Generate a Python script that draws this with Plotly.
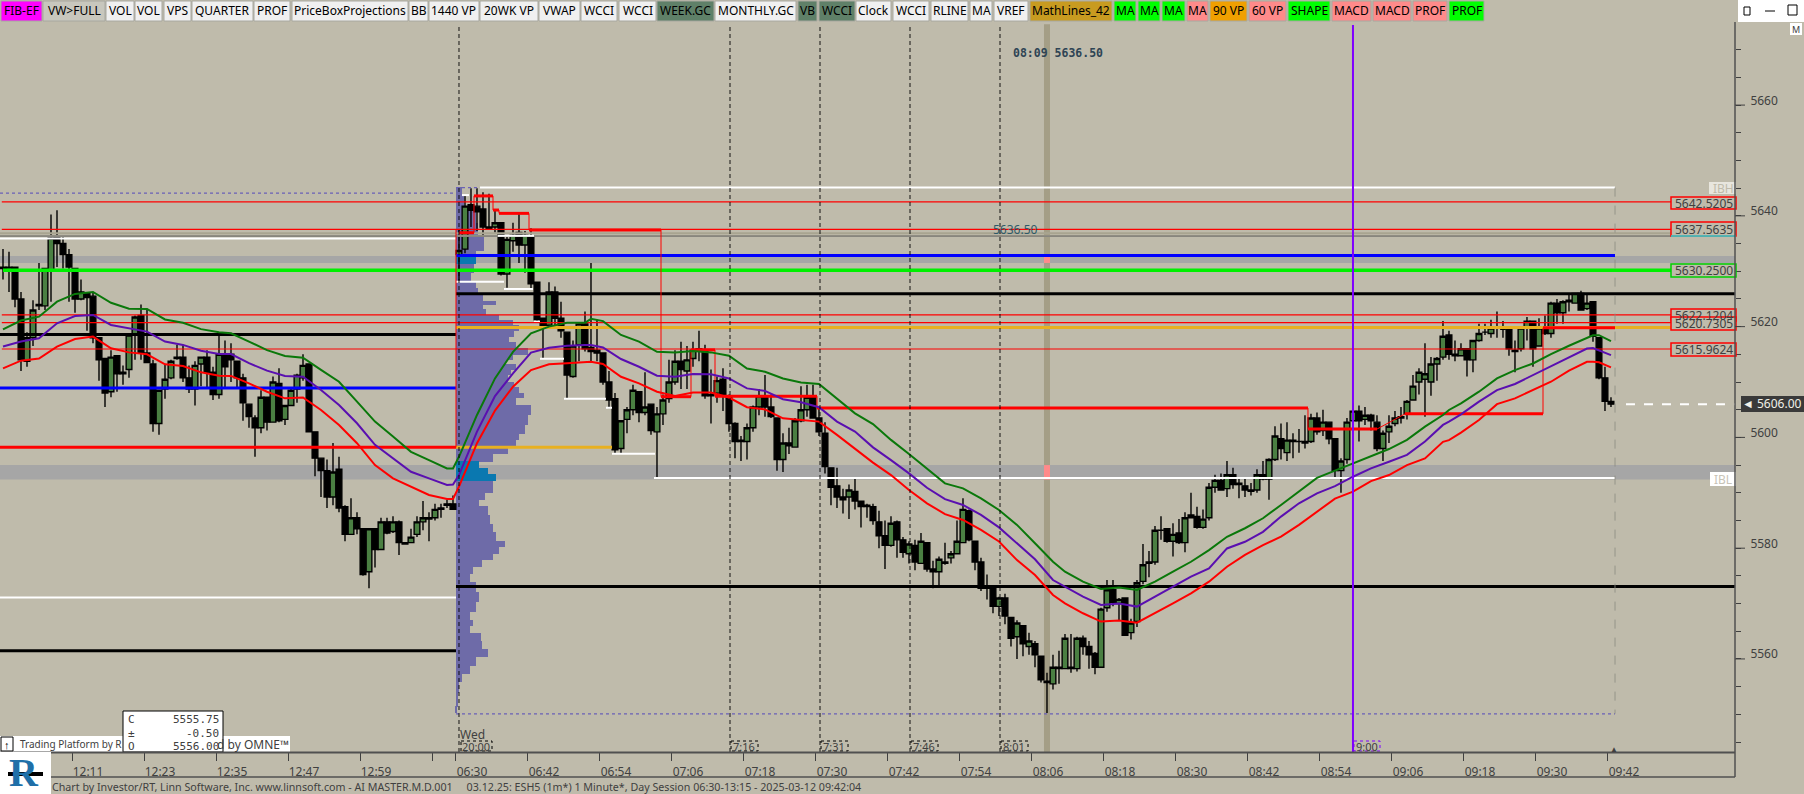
import numpy as np
import plotly.graph_objects as go

# ---------- candle data (1-minute ES bars, index 0 = 06:30) ----------
BAR_FIRST = -76
OPENS = [
5630.75,5630.25,5630.75,5625,5613.75,5618,5623.75,5623.75,5630.25,5636.25,
5635,5633,5630.5,5625,5626,5625.5,5618,5614.25,5608.25,5614.75,
5611.5,5612.25,5618.5,5622,5615.25,5613.25,5602.5,5608.75,5610.75,5614.25,
5614.5,5610.75,5608.75,5613.25,5614.5,5611.75,5607.75,5615,5615,5613.75,
5610.75,5606,5603.5,5601.75,5607.25,5602.75,5609.75,5603.25,5605.75,5608.75,
5610.75,5613.25,5601,5596.25,5594,5589.25,5594.25,5587.5,5582.5,5585.5,
5583.5,5575.75,5583.5,5579.75,5584.75,5583,5584.75,5581,5581,5582.5,
5584.75,5585.5,5585.5,5587,5587.75,5588,5633,5634,5642,5641.75,
5641.25,5638,5638,5638.75,5629.5,5635.5,5637,5634.75,5636.25,5628,
5621.5,5620.25,5626.25,5621.5,5619,5611,5616.75,5620.5,5616.25,5615.75,
5615.25,5610,5607,5598,5603.25,5605,5608.25,5604.5,5606,5601,
5604.25,5607,5610,5613.75,5612,5614.25,5615.75,5615.75,5607.75,5608,
5610.5,5607.5,5602.5,5599.5,5599.25,5601.75,5605.5,5607.5,5605.5,5603.5,
5596,5599,5598.25,5603,5605,5607.25,5603.5,5600.75,5594.5,5591.25,
5589.25,5589.25,5590.25,5588.5,5587.75,5587.5,5584.75,5582.25,5580.5,5584.75,
5581.5,5579,5580.5,5577.25,5581,5576.25,5575.75,5577.5,5578.25,5579,
5581,5586.75,5581.25,5577.5,5573,5573,5569.5,5571,5567.5,5564,
5566,5562.25,5562.75,5560.5,5556,5555.5,5558.25,5558.25,5558.5,5558.25,
5563.75,5562.25,5561,5558.5,5569.25,5572.5,5570,5571,5564.75,5566.75,
5574,5577.25,5577.5,5583.25,5583.5,5581.25,5582.75,5581,5586,5585.75,
5583.75,5585.5,5591,5592.25,5590.75,5593.25,5591.75,5591.25,5590.5,5590.5,
5593.25,5592.5,5596,5599.75,5597.25,5599.25,5599.25,5599.25,5599.25,5603.5,
5601.25,5602.75,5599.75,5594,5596,5603,5604.75,5603.25,5604,5602.75,
5598,5601,5602.5,5603.5,5604.25,5606.75,5610,5610.5,5610,5613.25,
5614.5,5618.5,5615,5614.75,5616,5614,5617.5,5619,5618.75,5619.75,
5619.5,5619.75,5615.75,5616,5620,5621,5616.5,5620,5618.75,5624.25,
5622.5,5624.5,5624.25,5626,5623.25,5624.5,5618,5610.75,5606.5]
HIGHS = [
5634,5633.5,5630.75,5626.25,5619,5624.75,5631.5,5630.5,5640.25,5641,
5636.25,5634,5630.5,5628.5,5626.25,5626.25,5618,5614.25,5615.75,5614.75,
5613,5618.75,5622,5624,5623.25,5614,5608.5,5613.25,5614,5616.75,
5616.75,5613,5613.75,5614.5,5615.75,5612.75,5618.5,5617.5,5617,5613.75,
5611.5,5606,5604,5608.5,5607.25,5611,5612.5,5605.75,5608.75,5611.5,
5615,5613.25,5601,5596.25,5596,5599,5596.5,5587.75,5589,5586.5,
5583.5,5583.5,5583.5,5585.5,5585.5,5585.75,5585,5581,5583.5,5585.75,
5588.5,5586.5,5588,5588,5588.75,5589.5,5637.5,5643.75,5645,5645,
5644.25,5644,5641.25,5638.75,5636.5,5638.75,5640.5,5637.25,5637.75,5628,
5621.5,5628,5627.25,5624.5,5619,5617.5,5620.75,5622.75,5631.5,5621.25,
5615.25,5612,5608,5603,5605.5,5609.5,5608.25,5611.75,5606,5605.5,
5607.75,5614,5615.75,5617.25,5616.5,5617.25,5619.25,5616.75,5612.25,5611,
5612.5,5607.75,5602.75,5600.25,5602.5,5605.75,5608.75,5611.25,5607.75,5603.5,
5600.75,5601.75,5603.5,5609.25,5609.5,5609.5,5605.25,5602.75,5594.5,5594.5,
5590.75,5591.5,5592.5,5588.5,5588,5588,5586.75,5585,5585.75,5585,
5582,5581.25,5581.5,5582.75,5581,5577.75,5578.5,5581,5579.5,5585,
5589,5587,5581.25,5578.25,5575.25,5573.25,5571.25,5571.75,5567.5,5567,
5566,5564.75,5563.25,5560.5,5557.5,5560.75,5561.5,5564.5,5564.5,5564,
5564.25,5563.25,5561.25,5569.25,5574.25,5574.25,5571,5571,5567.25,5574.25,
5580.75,5579.5,5584,5585.75,5583.5,5584.5,5585.25,5586.5,5590,5587.5,
5587,5591.75,5593.25,5593.5,5595.75,5594.5,5592.5,5592.5,5591.75,5594.25,
5595.75,5596.25,5602,5602.5,5602.75,5600.75,5601.5,5604,5604.25,5604.5,
5605,5602.75,5599.75,5596.25,5603.5,5606.25,5605.75,5605.5,5604.25,5604,
5601.25,5604,5604.75,5605.5,5606.75,5611.25,5612.5,5617,5614.5,5614.5,
5621,5619.25,5617.5,5617,5616,5617.5,5620.5,5620.5,5621.25,5622.75,
5621,5620,5617.5,5620,5621.75,5621,5621.5,5622,5624.5,5625,
5624.75,5625.75,5626,5626.5,5626,5624.5,5618,5612.75,5607.25]
LOWS = [
5628.5,5626.25,5623.5,5612,5612.75,5616.5,5623,5623,5624.5,5630.75,
5630.5,5624.5,5622.5,5624.75,5619.25,5617,5610.25,5605.5,5607.25,5608.25,
5609.5,5610.75,5614,5614,5613.5,5601,5600.5,5607,5610.5,5614,
5610,5608,5605.75,5609.25,5608.75,5606.75,5607,5608.75,5610,5609,
5603,5601.75,5596.5,5600.75,5601.25,5602.75,5602.75,5602.25,5605.75,5606.25,
5610.25,5601,5593,5589.25,5587.25,5587.75,5586.5,5581.25,5582.5,5582.5,
5575,5572.75,5576.5,5579.75,5582.5,5582.75,5578.75,5580.75,5581,5582,
5583.25,5581.25,5585,5585.5,5587.25,5587,5628,5633.25,5638,5637.25,
5636.5,5637.5,5637,5629.25,5627,5633.5,5631.5,5629.75,5626.75,5620.75,
5614.25,5620,5619.75,5618,5607,5610.75,5613.75,5615.5,5613.75,5613.75,
5609.5,5605.25,5597,5597,5600.75,5604,5602.75,5604,5600.5,5592.75,
5602.25,5606.25,5609.5,5608.75,5608.75,5612.75,5613.75,5607,5602.5,5606.25,
5604.75,5601,5596.25,5595.75,5596,5601,5604,5603.75,5603.5,5594,
5593.75,5597,5598.25,5602.75,5603.75,5603.5,5600.25,5593.5,5587.75,5587.25,
5586.25,5585.25,5587,5583.75,5585.5,5584.25,5580,5576.25,5580.25,5578.25,
5578.25,5577.25,5576,5577.25,5575.75,5572.75,5573,5577,5577.25,5579,
5581,5581.25,5576,5572.25,5570.75,5568.25,5567.75,5566.25,5562.25,5560,
5560.5,5560.75,5558.5,5555.75,5550.25,5554.5,5555.5,5558.25,5557.5,5557.75,
5560.75,5558.25,5557.25,5558.5,5568.5,5569.5,5567,5564.25,5563.5,5565.75,
5573.5,5574.75,5577,5581.5,5581,5578.5,5580.75,5579.25,5585.5,5583.5,
5583.5,5585,5590,5590.5,5589.25,5590.75,5589,5589.25,5589.5,5590,
5592.25,5588.75,5595.75,5596,5595.75,5596.25,5597.25,5598,5599,5600.5,
5600.25,5598.75,5592.75,5590,5595.25,5602.75,5599.25,5602.25,5601.25,5597.5,
5595.75,5599,5602,5602.5,5603.25,5606.75,5607.75,5603.75,5607.5,5610.25,
5614,5614,5613.75,5614.75,5611,5611.75,5617.25,5618.5,5618,5618,
5618,5614.75,5611.75,5615.5,5617.5,5612.75,5616.5,5618.5,5618,5620.5,
5620.5,5622.75,5624.25,5623,5623,5617.25,5610.5,5604.75,5605.5]
CLOSES = [
5630.5,5630.75,5625,5614,5618,5623,5624,5630.5,5636,5635,
5633,5630.75,5625,5626.25,5625.25,5618,5614,5608,5614.5,5611.5,
5611.75,5618.5,5621.75,5615.25,5613.5,5602.5,5608.5,5610.5,5613.75,5614.5,
5610.75,5608.75,5613,5614.5,5611.75,5607.75,5615,5612.75,5614,5610.75,
5606.25,5603.75,5601.75,5607.25,5602.75,5610,5603,5605.75,5608.5,5611.25,
5613,5601,5596.25,5594,5589.25,5593.75,5587.25,5582.5,5585.5,5583.5,
5575.25,5583.5,5579.75,5584.75,5582.75,5584.75,5581,5580.75,5582,5584.75,
5585.5,5585.25,5587,5587.25,5588,5587,5633.75,5641.75,5641,5640.75,
5638,5637.75,5638.75,5629.5,5635.75,5636.5,5634.75,5636.5,5627.75,5621.25,
5619.75,5626.25,5621.5,5619.25,5611.25,5616.5,5620.5,5616,5615.5,5615.25,
5610,5606.75,5597.75,5603,5605,5608.5,5604.5,5605.5,5601.25,5604.25,
5606.75,5610,5613.75,5612.25,5614,5615.75,5616,5607.5,5607.5,5610.25,
5607.75,5602.5,5599.25,5599.25,5601.75,5605.5,5607.5,5605.5,5603.75,5596,
5599,5598.5,5603,5605,5607.25,5603.5,5601,5594.75,5591,5589.25,
5588.75,5590.5,5588.5,5587.5,5587.5,5585,5582.25,5580.5,5584.5,5581.5,
5579.25,5580.75,5577.5,5581.25,5576.25,5575.75,5578,5577.25,5579,5581.25,
5587,5581.5,5577.5,5572.75,5572.75,5569.5,5571,5567.75,5563.75,5566.5,
5562.75,5563.25,5560.75,5556.25,5555.75,5558.5,5558.5,5563.75,5558.25,5563.75,
5562.25,5560.75,5558.5,5569,5572.5,5570.25,5570.75,5564.25,5566.5,5573.75,
5577,5577.5,5583.25,5583.25,5581.25,5582.5,5581,5585.5,5585.5,5583.75,
5585.25,5591,5592.25,5590.5,5593.25,5591.5,5591.5,5590.5,5590.25,5593.25,
5592.5,5596,5600.25,5598,5599.5,5599.5,5599.25,5599,5603.5,5601,
5602.75,5599.75,5594,5595.75,5602.75,5604.75,5603,5604,5603,5598,
5600.75,5602,5603.5,5603.75,5606.5,5609.25,5611.75,5611.5,5613.25,5614.25,
5618.25,5615,5614.75,5616,5614,5617.5,5618.75,5619,5619.75,5619.75,
5619.5,5616,5615.5,5619.75,5621,5616,5619.75,5618.75,5624.25,5622.5,
5624.5,5624.75,5626,5623,5624.25,5618.25,5610.75,5606.5,5606]

# ---------- moving averages ----------
MA_X = [-76,-73,-70,-67,-64,-61,-58,-55,-52,-49,-46,-43,-40,
        -38,-35,-32,-29,-26,-23,-20,-17,-14,-11,-8,-5,-2,-1,
        0,3,6,9,12,15,18,21,22,24,27,30,33,
        36,39,42,45,48,51,54,57,60,63,66,
        69,72,75,78,81,84,87,90,93,96,99,101,
        104,107,110,113,116,119,122,125,128,131,134,
        137,140,143,146,149,152,155,158,161,164,
        165,167,170,173,176,179,182,185,188,189,190,192]
MA_GREEN = [5619.5,5621.1,5621.8,5624.5,5625.9,5626.25,5624.3,5623.25,5623.2,5621.3,5620.7,5619.55,5619,
  5618.8,5617.3,5615.75,5614.7,5614.4,5612.2,5610.05,5606.45,5602.85,5600.15,5597.4,5595.9,5594.4,5594.4,
  5596.5,5604.05,5610.65,5615.45,5618.8,5620,5620.7,5620.7,5621.4,5621,5618.5,5617.3,5615.45,
  5615.35,5615.6,5615.35,5614.75,5612.45,5611.85,5610.65,5609.9,5609.65,5607.05,5604.35,
  5602.4,5599.55,5597,5594.4,5591.7,5590.8,5589,5586.9,5584.2,5580.9,5577.55,5575.75,
  5573.95,5572.65,5572.9,5572.45,5573.95,5575.75,5577.55,5579.65,5582.05,5583.6,5585.4,
  5587.8,5590.2,5592.7,5594,5595.3,5596.65,5597.9,5599.55,5601.95,5604.05,
  5604.95,5606.15,5608.25,5610.65,5612.15,5613.35,5615.05,5616.55,5618.05,5618.45,5618.45,5617.4]
MA_PURPLE = [5616.4,5617.3,5617.9,5620.6,5621.9,5622.1,5620.3,5619.7,5619.1,5617.3,5616.7,5615.65,5615.05,
  5615.05,5613.4,5612.05,5611.1,5610.95,5608.55,5605.85,5602.55,5598.65,5596.2,5593.8,5592.6,5591.4,5591.5,
  5593.2,5601.05,5607.45,5611.55,5615.3,5616.2,5616.55,5616.7,5616.7,5616.25,5614.15,5612.75,5611.15,
  5610.95,5611.45,5611.4,5610.65,5608.85,5608.4,5606.9,5606.35,5605.45,5602.85,5601.05,
  5598.2,5595.9,5593.5,5590.9,5588.85,5587.8,5586,5583.75,5580.9,5578,5574.25,5573.05,
  5571.25,5569.75,5570,5569.45,5571.25,5573.05,5574.85,5576.35,5579.95,5581.15,5582.95,
  5585.7,5588.1,5589.9,5591.2,5592.9,5594.4,5595.6,5596.85,5599.25,5602.25,
  5602.85,5604.15,5606.45,5608.55,5609.65,5611.25,5612.9,5614.45,5616.05,5616.15,5615.75,5614.85]
MA_RED = [5612.45,5613.85,5614.25,5616.4,5617.75,5618.2,5616.1,5615.35,5615,5613.2,5612.9,5611.75,5611.15,
  5611.1,5609.75,5608.25,5607.05,5607.2,5604.95,5602.25,5598.95,5595,5592.6,5591.1,5589.6,5588.9,5588.9,
  5591.1,5598.95,5604.85,5609.15,5612.15,5613.2,5613.4,5613.65,5613.65,5613.25,5610.95,5609.75,5608.25,
  5607.5,5608.1,5608.1,5607.2,5605.45,5605.05,5603.45,5603.15,5602.85,5600.45,5598,
  5595.45,5593.2,5590.5,5588.1,5586.15,5585.1,5583.3,5581.2,5577.85,5575.15,5571.55,5570.05,
  5568.25,5566.75,5566.95,5566.55,5568.25,5570.05,5571.85,5573.95,5576.65,5578.8,5580.55,
  5582.1,5584.2,5586.6,5588.95,5590.2,5592.1,5593.2,5595,5596.2,5599.2,
  5599.5,5600.85,5603.15,5606,5607.05,5608.55,5610.05,5612.05,5613.65,5613.65,5613.55,5612.65]

# ---------- volume profile ----------
PROFILE_PRICE = [5645.2,5641.95,5639.6,5637.8,5635.25,5634.2,5633.3,5632,5630.6,5628.95,5627.5,5626.25,5625.15,
  5624.25,5623.55,5622.65,5621.55,5620.85,5619.75,5618.85,5617.6,5616.7,5615.4,5614.5,5613.6,5612.7,5611.8,
  5610.7,5609.45,5608.55,5607.45,5606.75,5604.95,5603.15,5601.35,5600.05,5599.15,5597.75,5596.3,5595,5594.1,
  5592.65,5591.75,5590.85,5589.25,5588.15,5586.9,5585.1,5583.65,5582,5580.6,5579.7,5578.4,5577.35,5576.05,
  5574.8,5573,5571.2,5569.4,5567.6,5566.5,5565.25,5564,5562.55,5561.1,5559.55,5558,5556.75,5555,5552.6,5550.25]
PROFILE_VOL = [6,8,20,22,28,28,20,20,18,15,20,22,27,
  40,27,30,43,57,63,58,53,60,72,57,50,60,55,
  52,58,63,68,60,75,72,69,63,60,52,37,23,32,
  40,37,37,29,23,32,34,37,40,49,43,37,26,17,
  14,20,23,20,14,17,14,25,26,32,20,14,6,3,2,1]
PROFILE_POC_PRICES = [5632, 5595, 5594.1, 5592.65]

# ---------- price levels: (start bar, end bar, price) ----------
L_END = 212.67
LEFT_EDGE = -76.5
SESSION = -0.5
BOX_END = 192.67
TAG_START = 202.2
WHITE_LEVELS = [(LEFT_EDGE,SESSION,5635.9),(LEFT_EDGE,SESSION,5571.1),(3.5,BOX_END,5645.1),(32.5,BOX_END,5592.65),
  (0.5,1.67,5643.75),(6.5,12.5,5636.4),(SESSION,7.5,5628.1),(7.5,12.33,5626.8),(12.5,13.5,5620.9),
  (13.5,17.5,5614.2),(17.5,24.5,5607),(24.5,25.5,5605.35),(25.5,32.67,5597.05)]
BLACK_LEVELS = [(LEFT_EDGE,SESSION,5618.6),(LEFT_EDGE,SESSION,5561.5),(SESSION,L_END,5625.95),(SESSION,L_END,5573.1)]
BLUE_LEVELS = [(LEFT_EDGE,SESSION,5608.9),(SESSION,BOX_END,5632.85)]
ORANGE_LEVELS = [(SESSION,TAG_START,5619.85),(SESSION,25.5,5598.2)]
THIN_RED_LEVELS = [5642.5205,5637.5635,5622.1204,5620.7305,5615.9624]
RED_STEPS = [(0,2.5,5636.95),(2.5,5.67,5643.6),(5.67,6.67,5641.05),(6.67,11.67,5640.45),(11.67,33.67,5637.45),
  (33.67,38.67,5607.35),(38.67,42.67,5615.8),(42.67,59.67,5607.45),(59.67,141.5,5605.3),(141.5,153,5601.5),
  (157.67,180.67,5604.25),(180.67,192.67,5619.8)]
DOT_LEVELS = [(LEFT_EDGE,SESSION,5644.1),(SESSION,3.5,5645.1),(SESSION,BOX_END,5550.1)]
BANDS = [(5632.75,5631.5),(5595,5592.4)]

V_DASHED = [0,45.17,60.17,75.17,90.17]
V_TAN = 98
V_PURPLE = 149
V_TAGS = [("7:16",45.17),("7:31",60.17),("7:46",75.17),("8:01",90.17)]

X_TICK_POS = [-64.5,-52.5,-40.5,-28.5,-16.5,-0.5,11.5,23.5,35.5,47.5,59.5,71.5,83.5,95.5,107.5,119.5,131.5,143.5,155.5,167.5,179.5,191.5]
X_TICK_LAB = ["12:11","12:23","12:35","12:47","12:59","06:30","06:42","06:54","07:06","07:18","07:30","07:42","07:54","08:06","08:18","08:30","08:42","08:54","09:06","09:18","09:30","09:42"]
Y_LABELS = [5560,5580,5600,5620,5640,5660]
Y_MINOR = [5545,5550,5555,5560,5565,5570,5575,5580,5585,5590,5595,5600,5605,5610,5615,5620,5625,5630,5635,5640,5645,5650,5655,5660,5665,5670]

BUTTONS = [("FIB-EF",1,42,"#FF00FF"),("VW>FULL",43,105,"#C8C7BD"),("VOL",106,134,"#F0F0F0"),("VOL",135,162,"#F0F0F0"),
 ("VPS",164,191,"#F0F0F0"),("QUARTER",192,253,"#F0F0F0"),("PROF",254,290,"#F0F0F0"),("PriceBoxProjections",292,408,"#F0F0F0"),
 ("BB",409,428,"#F0F0F0"),("1440 VP",429,479,"#F0F0F0"),("20WK VP",480,538,"#F0F0F0"),("VWAP",539,580,"#F0F0F0"),
 ("WCCI",581,617,"#F0F0F0"),("WCCI",619,656,"#F0F0F0"),("WEEK.GC",657,714,"#5F8068"),("MONTHLY.GC",715,796,"#F0F0F0"),
 ("VB",798,817,"#5F8068"),("WCCI",819,855,"#5F8068"),("Clock",856,891,"#F0F0F0"),("WCCI",893,929,"#F0F0F0"),
 ("RLINE",931,968,"#F0F0F0"),("MA",970,992,"#F0F0F0"),("VREF",994,1028,"#F0F0F0"),("MathLines_42",1030,1112,"#C89B20"),
 ("MA",1114,1136,"#00FF00"),("MA",1138,1160,"#00FF00"),("MA",1162,1185,"#00FF00"),("MA",1187,1208,"#FF8A8A"),
 ("90 VP",1210,1247,"#F0A000"),("60 VP",1249,1286,"#FF8A8A"),("SHAPE",1288,1330,"#00FF00"),("MACD",1332,1371,"#FF8A8A"),
 ("MACD",1373,1411,"#FF8A8A"),("PROF",1413,1447,"#FF8A8A"),("PROF",1449,1484,"#00FF00")]
PRICE_TAGS = [("5642.5205",197,209,"#FF0000"),("5637.5635",222,236,"#FF0000"),("5630.2500",264,277,"#00D000"),
 ("5622.1204",309,321,"#FF0000"),("5620.7305",317,330,"#FF0000"),("5615.9624",343,356,"#FF0000")]
STATUS = "Chart by Investor/RT, Linn Software, Inc. www.linnsoft.com - AI MASTER.M.D.001     03.12.25: ESH5 (1m*) 1 Minute*, Day Session 06:30-13:15 - 2025-03-12 09:42:04"

# ---------- figure geometry ----------
W, H = 1804, 794
PL, PR, PT, PB = 0, 1735, 22, 752
BG = "#BFBBAB"
FONT = "Noto Sans"
GREY = "#404040"
def PX(x): return (x - PL) / (PR - PL)
def PY(y): return 1 - (y - PT) / (PB - PT)

def seg(levels):
    xs, ys = [], []
    for a, b, p in levels:
        xs += [a, b, None]; ys += [p, p, None]
    return xs, ys

fig = go.Figure()
idx = np.arange(BAR_FIRST, BAR_FIRST + len(OPENS))

def line(xs, ys, color, width, dash="solid"):
    fig.add_trace(go.Scatter(x=xs, y=ys, mode="lines", line=dict(color=color, width=width, dash=dash),
                             hoverinfo="skip", connectgaps=False))

# profile: rows tile between the midpoints of neighbouring read prices
pp = np.array(PROFILE_PRICE)
mids = (pp[:-1] + pp[1:]) / 2
edges = np.concatenate([[pp[0]], mids, [pp[-1]]])
fig.add_trace(go.Bar(y=(edges[:-1] + edges[1:]) / 2, x=np.array(PROFILE_VOL) / 6.0, base=-0.5, orientation="h",
                     width=np.abs(np.diff(edges)) + 0.03,
                     marker=dict(color=["#0A78B0" if p in PROFILE_POC_PRICES else "#6E6BA8" for p in PROFILE_PRICE],
                                 line=dict(width=0)), hoverinfo="skip"))
# levels behind candles
line([LEFT_EDGE, L_END, None, LEFT_EDGE, L_END], [5636.85, 5636.85, None, 5636.35, 5636.35], "#A8A490", 2)
line([LEFT_EDGE, L_END], [5636.35, 5636.35], "#707070", 1)
line(*seg(DOT_LEVELS), "#6A60B8", 1.2, "dot")
line(*seg(WHITE_LEVELS), "#FFFFFF", 2)
line(*seg(ORANGE_LEVELS), "#E8B020", 3)
line(*seg(BLUE_LEVELS), "#0000FF", 3)
line(*seg([(LEFT_EDGE, SESSION, 5598.2)]), "#FF0000", 3)
line([LEFT_EDGE + 0.5, L_END], [5630.2, 5630.2], "#00F000", 3.5)
line(*seg(BLACK_LEVELS), "#000000", 3)
sx, sy = [SESSION, SESSION, None], [5637.45, 5598.2, None]
for a, b, p in RED_STEPS:
    sx += [a, b]; sy += [p, p]
line(sx, sy, "#FF0000", 1)
line(*seg(RED_STEPS), "#FF0000", 3)
# candles
fig.add_trace(go.Candlestick(x=idx, open=OPENS, high=HIGHS, low=LOWS, close=CLOSES, whiskerwidth=0,
    increasing=dict(fillcolor="#4A7F42", line=dict(color="#000000", width=1.4)),
    decreasing=dict(fillcolor="#000000", line=dict(color="#000000", width=1.4)), hoverinfo="skip"))
# thin red levels
xs, ys = [], []
for p in THIN_RED_LEVELS:
    xs += [LEFT_EDGE + 0.3, TAG_START, None]; ys += [p, p, None]
line(xs, ys, "#FF0000", 1.1)
line([BOX_END - 0.0, BOX_END], [5645.1, 5550.1], "#8A8A80", 0.8, "dash")
# moving averages
line(MA_X, MA_GREEN, "#0A780A", 2)
line(MA_X, MA_PURPLE, "#5A0FB0", 2)
line(MA_X, MA_RED, "#FF0000", 2)
# last price
line([194.5, 213], [5606, 5606], "#FFFFFF", 2, "dash")

shapes, anns = [], []
def rect(x0, y0, x1, y1, fill, lc=None, lw=0, dash=None, layer="above"):
    shapes.append(dict(type="rect", xref="paper", yref="paper", x0=PX(x0), x1=PX(x1), y0=PY(y0), y1=PY(y1),
        fillcolor=fill, line=dict(color=lc or fill, width=lw, dash=dash or "solid"), layer=layer))
def hline(x0, x1, y, color, w=1):
    shapes.append(dict(type="line", xref="paper", yref="paper", x0=PX(x0), x1=PX(x1), y0=PY(y), y1=PY(y),
                       line=dict(color=color, width=w), layer="above"))
def vline(x, y0, y1, color, w=1):
    shapes.append(dict(type="line", xref="paper", yref="paper", x0=PX(x), x1=PX(x), y0=PY(y0), y1=PY(y1),
                       line=dict(color=color, width=w), layer="above"))
def text(x, y, s, size=12, color="#000000", anchor="center", family=FONT, **kw):
    anns.append(dict(xref="paper", yref="paper", x=PX(x), y=PY(y), text=s, showarrow=False, xanchor=anchor,
                     yanchor="middle", font=dict(family=family, size=size, color=color), borderpad=0, **kw))

# bands and data-space verticals
for hi, lo in BANDS:
    shapes.append(dict(type="rect", xref="x", yref="y", x0=LEFT_EDGE, x1=L_END, y0=lo, y1=hi,
                       fillcolor="#A6A6A6", line=dict(width=0), layer="below"))
shapes.append(dict(type="rect", xref="x", yref="paper", x0=V_TAN - 0.5, x1=V_TAN + 0.5, y0=0, y1=0.997,
                   fillcolor="#A49E86", line=dict(width=0), layer="below"))
for hi, lo in BANDS:
    shapes.append(dict(type="rect", xref="x", yref="y", x0=V_TAN - 0.5, x1=V_TAN + 0.5, y0=lo, y1=hi,
                       fillcolor="#FF8A8A", line=dict(width=0), layer="below"))
for v in V_DASHED:
    shapes.append(dict(type="line", xref="x", yref="paper", x0=v, x1=v, y0=0, y1=0.997,
                       line=dict(color="#000000", width=0.9, dash="4px,3px"), layer="above"))
shapes.append(dict(type="line", xref="x", yref="paper", x0=V_PURPLE, x1=V_PURPLE, y0=0, y1=0.996,
                   line=dict(color="#7F00FF", width=2), layer="above"))

# toolbar
for name, a, b, col in BUTTONS:
    rect(a, 1, b, 21, col, "#A8A8A0", 1)
    text((a + b) / 2, 11, name, 12, "#000000")
rect(1738, 0, 1804, 22, "#FFFFFF")
rect(1744, 7, 1750, 15, "#FFFFFF", "#000000", 1)
hline(1765, 1775, 11, "#000000", 1)
rect(1788, 5, 1797, 15, "#FFFFFF", "#000000", 1)
rect(1790, 23, 1802, 35, "#FFFFFF")
text(1796, 29, "M", 9, GREY)

# overlays in chart
text(1058, 53, "<b>08:09 5636.50</b>", 11.5, "#2E4454", family="DejaVu Sans Mono")
text(1015, 230, "5636.50", 12, "#2E5A68")
for s, a, b, c in PRICE_TAGS:
    rect(1671, a, 1736, b, BG, c, 1.5)
    text(1704, (a + b) / 2, s, 12, GREY)
hline(1671, 1736, 236, "#20E0E0", 1.5)
rect(1709, 182, 1736, 194, "#E8E6DE"); text(1723, 188, "IBH", 12, "#BFBBAB")
rect(1710, 472, 1736, 486, "#FFFFFF"); text(1723, 479, "IBL", 12, "#C8C4B8")
rect(1741, 396, 1804, 412, "#3A3A3A")
text(1772, 404, "\u25c4 5606.00", 12, "#F0F0E8")

# session labels
text(459, 734, "Wed", 12, GREY, "left")
rect(461, 741, 492, 751, BG, "#000000", 1, "dot"); text(476, 746, "20:00", 11, GREY)
for s, v in V_TAGS:
    px = 459 + 6 * v
    rect(px + 1, 741, px + 28, 751, BG, "#000000", 1, "dot"); text(px + 14, 746, s, 11, GREY)
rect(1354, 741, 1380, 751, BG, "#7F00FF", 1, "dot"); text(1367, 746, "9:00", 11, GREY)
text(1614, 748, "\u25b2", 8, GREY)

# platform strip and OHLC box
rect(0, 736, 290, 752, "#FFFFFF")
rect(1, 737, 13, 751, "#FFFFFF", "#000000", 1)
text(7, 744, "\u2191", 11, "#000000")
text(19, 744, "Trading Platform by R", 10, GREY, "left")
text(290, 744, "d by OMNE\u2122", 12, GREY, "right")
rect(123, 711, 223, 752, "#FFFFFF", "#000000", 1)
for yy, a, b in [(719.5, "C", "5555.75"), (733, "\u00b1", "-0.50"), (746, "O", "5556.00")]:
    text(127, yy, a, 11, GREY, "left", family="DejaVu Sans Mono")
    text(220, yy, b, 11, GREY, "right", family="DejaVu Sans Mono")

# frame and status
hline(0, 1735, 752.5, "#505050", 2)
hline(0, 1735, 777, "#505050", 1.5)
vline(1735, 22, 777, "#505050", 1.5)
for y in Y_LABELS:
    shapes.append(dict(type="line", xref="paper", yref="y", x0=1, x1=1 + 10 / 1735, y0=y, y1=y,
                       line=dict(color=GREY, width=1), layer="above"))
rect(0, 752, 51, 794, "#FFFFFF")
text(24, 772, "<b>R</b>", 40, "#1F6FA8", family="Liberation Serif")
rect(8, 772, 43, 776, "#000000")
text(51, 787, STATUS, 10.7, GREY, "left")

fig.update_layout(
    width=W, height=H, margin=dict(l=PL, r=W - PR, t=PT, b=H - PB, pad=0, autoexpand=False),
    paper_bgcolor=BG, plot_bgcolor=BG, showlegend=False, barmode="overlay", boxgap=0.05, boxgroupgap=0,
    bargap=0, shapes=shapes, annotations=anns, font=dict(family=FONT, size=12, color=GREY),
    xaxis=dict(range=[LEFT_EDGE, L_END], rangeslider=dict(visible=False), showgrid=False, zeroline=False,
               tickmode="array", tickvals=[t + 2.67 for t in X_TICK_POS], ticktext=X_TICK_LAB,
               ticks="outside", ticklen=9, tickcolor="rgba(0,0,0,0)", tickfont=dict(size=12, color=GREY, family=FONT),
               tickangle=0,
               minor=dict(tickmode="array", tickvals=X_TICK_POS + [-4.5], ticks="outside", ticklen=8, tickcolor=GREY, tickwidth=1, showgrid=False),
               fixedrange=True),
    yaxis=dict(range=[5543.2, 5675.0], side="right", showgrid=False, zeroline=False,
               tickmode="array", tickvals=[v + 0.85 for v in Y_LABELS], ticktext=[str(v) for v in Y_LABELS],
               ticks="outside", ticklen=12, tickcolor="rgba(0,0,0,0)", tickfont=dict(size=12, color=GREY, family=FONT),
               minor=dict(tickmode="array", tickvals=Y_MINOR, ticks="outside", ticklen=5, tickcolor=GREY, tickwidth=1, showgrid=False),
               fixedrange=True),
)
fig.write_html("out.html", post_script="document.body.style.margin='0';document.body.style.overflow='hidden';",
               config=dict(displayModeBar=False))
